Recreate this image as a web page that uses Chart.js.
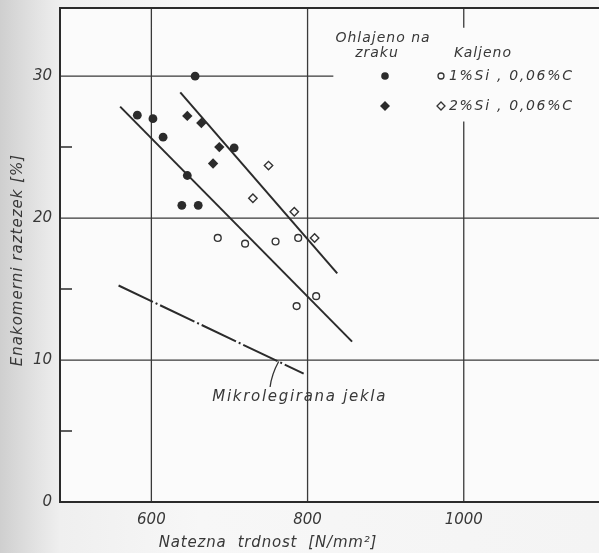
<!DOCTYPE html>
<html>
<head>
<meta charset="utf-8">
<script src="https://cdn.jsdelivr.net/npm/chart.js@4/dist/chart.umd.min.js"></script>
<style>
  html, body { margin: 0; padding: 0; }
  body {
    width: 599px; height: 553px; overflow: hidden;
    background: linear-gradient(to right, #cfcfcf 0px, #e2e2e2 35px, #efefef 60px, #f7f7f7 200px, #f4f4f4 599px);
  }
  canvas { display: block; }
</style>
</head>
<body>
<canvas id="chart" width="599" height="553"></canvas>
<script>
// air cooled, 1% Si (filled circles)
const air1X = [582, 602, 615, 656, 646, 639, 660, 706]
const air1Y = [27.25, 27.0, 25.7, 30.0, 23.0, 20.9, 20.9, 24.95]
// air cooled, 2% Si (filled diamonds)
const air2X = [646, 664, 687, 679]
const air2Y = [27.2, 26.7, 25.0, 23.85]
// quenched, 1% Si (open circles)
const q1X = [685, 720, 759, 788, 811, 786]
const q1Y = [18.6, 18.2, 18.35, 18.6, 14.5, 13.8]
// quenched, 2% Si (open diamonds)
const q2X = [750, 730, 783, 809]
const q2Y = [23.7, 21.4, 20.45, 18.6]
// fitted lines (end points)
const fitLowX = [560, 857]
const fitLowY = [27.85, 11.3]
const fitHighX = [637, 838]
const fitHighY = [28.85, 16.1]
const microX = [558, 795]
const microY = [15.25, 9.05]

const xTicks = [600, 800, 1000]
const yTicks = [0, 10, 20, 30]
const yMinor = [5, 15, 25]

const INK = '#2b2b2b'
const TXT = '#383838'
const FONT = '"DejaVu Sans", sans-serif'

function pts(xs, ys){
    return xs.map((x, i) => ({x: x, y: ys[i]}))
}

const drawingPlugin = {
    id: 'drawing',
    beforeDatasetsDraw(chart){
        const {ctx, chartArea: a, scales: {x, y}} = chart
        const right = chart.width
        ctx.save()
        ctx.fillStyle = '#fbfbfb'
        ctx.fillRect(a.left, a.top, right - a.left, a.bottom - a.top)

        ctx.strokeStyle = '#3a3a3a'
        ctx.lineWidth = 1.3
        ctx.beginPath()
        // horizontal grid
        for(const v of [10, 20]){
            ctx.moveTo(a.left, y.getPixelForValue(v))
            ctx.lineTo(right, y.getPixelForValue(v))
        }
        ctx.moveTo(a.left, y.getPixelForValue(30))
        ctx.lineTo(x.getPixelForValue(833), y.getPixelForValue(30))
        // vertical grid
        for(const v of [600, 800]){
            ctx.moveTo(x.getPixelForValue(v), a.top)
            ctx.lineTo(x.getPixelForValue(v), a.bottom)
        }
        const x1000 = x.getPixelForValue(1000)
        ctx.moveTo(x1000, a.top)
        ctx.lineTo(x1000, y.getPixelForValue(33.4))
        ctx.moveTo(x1000, y.getPixelForValue(26.8))
        ctx.lineTo(x1000, a.bottom)
        ctx.stroke()

        // frame
        ctx.strokeStyle = INK
        ctx.lineWidth = 2
        ctx.beginPath()
        ctx.moveTo(right, a.top)
        ctx.lineTo(a.left, a.top)
        ctx.lineTo(a.left, a.bottom)
        ctx.lineTo(right, a.bottom)
        ctx.stroke()

        // minor ticks on y axis
        ctx.lineWidth = 1.5
        ctx.beginPath()
        for(const v of yMinor){
            ctx.moveTo(a.left, y.getPixelForValue(v))
            ctx.lineTo(a.left + 12, y.getPixelForValue(v))
        }
        ctx.stroke()
        ctx.restore()
    },
    afterDatasetsDraw(chart){
        const {ctx, scales: {x, y}} = chart
        ctx.save()
        ctx.fillStyle = TXT
        ctx.strokeStyle = '#333'
        ctx.font = `italic 14px ${FONT}`
        ctx.letterSpacing = '1px'
        ctx.textBaseline = 'middle'
        ctx.textAlign = 'center'
        ctx.fillText('Ohlajeno na', 383, 38)
        ctx.fillText('zraku', 377, 53)
        ctx.fillText('Kaljeno', 483, 53)

        // legend markers
        ctx.fillStyle = INK
        ctx.beginPath()
        ctx.arc(385, 76, 3.8, 0, Math.PI * 2)
        ctx.fill()
        ctx.beginPath()
        ctx.moveTo(385, 101); ctx.lineTo(390, 106); ctx.lineTo(385, 111); ctx.lineTo(380, 106)
        ctx.closePath()
        ctx.fill()
        ctx.lineWidth = 1.3
        ctx.beginPath()
        ctx.arc(441, 76, 3, 0, Math.PI * 2)
        ctx.stroke()
        ctx.beginPath()
        ctx.moveTo(441, 102); ctx.lineTo(445, 106); ctx.lineTo(441, 110); ctx.lineTo(437, 106)
        ctx.closePath()
        ctx.stroke()

        ctx.fillStyle = TXT
        ctx.textAlign = 'left'
        ctx.letterSpacing = '1.7px'
        ctx.fillText('1%Si , 0,06%C', 449, 76)
        ctx.fillText('2%Si , 0,06%C', 449, 106)

        // annotation for the micro-alloyed line
        ctx.font = `italic 15px ${FONT}`
        ctx.letterSpacing = '1.7px'
        ctx.fillText('Mikrolegirana jekla', x.getPixelForValue(678), y.getPixelForValue(7.4))
        ctx.lineWidth = 1.3
        ctx.beginPath()
        ctx.moveTo(x.getPixelForValue(763), y.getPixelForValue(9.9))
        ctx.quadraticCurveTo(x.getPixelForValue(754), y.getPixelForValue(9.0),
                             x.getPixelForValue(752), y.getPixelForValue(8.1))
        ctx.stroke()

        // axis titles
        ctx.font = `italic 15px ${FONT}`
        ctx.letterSpacing = '0.8px'
        ctx.textAlign = 'center'
        ctx.fillText('Natezna  trdnost  [N/mm²]', 268, 543)
        ctx.translate(18, 260)
        ctx.rotate(-Math.PI / 2)
        ctx.letterSpacing = '1px'
        ctx.fillText('Enakomerni raztezek [%]', 0, 0)
        ctx.restore()
    }
}

const lineStyle = {
    type: 'line',
    borderColor: INK,
    borderWidth: 2,
    pointRadius: 0,
    fill: false
}

const tickFont = {family: FONT, size: 15, style: 'italic'}

const chart = new Chart(document.getElementById('chart'), {
    type: 'scatter',
    data: {
        datasets: [
            Object.assign({label: 'fit low', data: pts(fitLowX, fitLowY)}, lineStyle),
            Object.assign({label: 'fit high', data: pts(fitHighX, fitHighY)}, lineStyle),
            Object.assign({label: 'Mikrolegirana jekla', data: pts(microX, microY), borderDash: [38, 3, 2, 3], borderWidth: 1.8}, lineStyle),
            {label: '1%Si zrak', data: pts(air1X, air1Y), pointStyle: 'circle', pointRadius: 4.4,
             backgroundColor: INK, borderColor: INK, borderWidth: 0},
            {label: '2%Si zrak', data: pts(air2X, air2Y), pointStyle: 'rectRot', pointRadius: 5.2,
             backgroundColor: INK, borderColor: INK, borderWidth: 0},
            {label: '1%Si kaljeno', data: pts(q1X, q1Y), pointStyle: 'circle', pointRadius: 3.4,
             backgroundColor: '#fbfbfb', borderColor: '#333', borderWidth: 1.4},
            {label: '2%Si kaljeno', data: pts(q2X, q2Y), pointStyle: 'rectRot', pointRadius: 4.2,
             backgroundColor: '#fbfbfb', borderColor: '#333', borderWidth: 1.4}
        ]
    },
    options: {
        responsive: false,
        animation: false,
        layout: {padding: {top: 8, right: 0, left: 0, bottom: 0}},
        plugins: {legend: {display: false}, tooltip: {enabled: false}},
        scales: {
            x: {
                type: 'linear', min: 483, max: 1166,
                afterBuildTicks: (s) => { s.ticks = xTicks.map(v => ({value: v})) },
                afterFit: (s) => { s.height = 51; s.paddingLeft = 0; s.paddingRight = 0 },
                grid: {display: false, drawTicks: false},
                border: {display: false},
                ticks: {color: TXT, padding: 9, font: tickFont, callback: (v) => String(v)}
            },
            y: {
                type: 'linear', min: 0, max: 34.8,
                afterBuildTicks: (s) => { s.ticks = yTicks.map(v => ({value: v})) },
                afterFit: (s) => { s.width = 60; s.paddingTop = 0; s.paddingBottom = 0 },
                grid: {display: false, drawTicks: false},
                border: {display: false},
                ticks: {color: TXT, padding: 8, font: tickFont, callback: (v) => String(v)}
            }
        }
    },
    plugins: [drawingPlugin]
})
</script>
</body>
</html>
